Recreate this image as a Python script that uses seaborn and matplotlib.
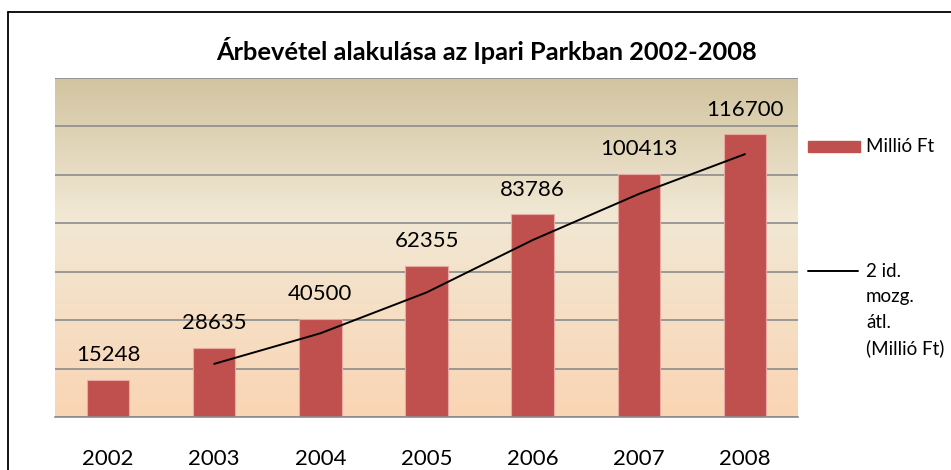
import numpy as np
import pandas as pd
import matplotlib
matplotlib.use("Agg")
import matplotlib.pyplot as plt
import seaborn as sns
from matplotlib.colors import LinearSegmentedColormap
from matplotlib.patches import Rectangle
from matplotlib.lines import Line2D

# data
years = ["2002", "2003", "2004", "2005", "2006", "2007", "2008"]
revenue = [15248, 28635, 40500, 62355, 83786, 100413, 116700]
title = "Árbevétel alakulása az Ipari Parkban 2002-2008"
bar_label = "Millió Ft"
line_label = "2 id.\nmozg.\nátl.\n(Millió Ft)"

df = pd.DataFrame({"year": years, "value": revenue})
df["ma"] = df["value"].rolling(2).mean()

sns.set_theme(style="white")
plt.rcParams["font.family"] = ["Lato", "DejaVu Sans"]

fig = plt.figure(figsize=(9.51, 4.70), dpi=100)
ax = fig.add_axes([55 / 951, 1 - 417 / 470, 743 / 951, 339 / 470])

# gradient background of the plot area
grad = LinearSegmentedColormap.from_list(
    "bg", [(0.0, "#FAD5B4"), (0.6, "#F1E8D4"), (1.0, "#D2C4A0")])
ax.imshow(np.linspace(0, 1, 256).reshape(-1, 1), cmap=grad, origin="lower",
          extent=[0, 1, 0, 1], transform=ax.transAxes, aspect="auto", zorder=0)

sns.barplot(data=df, x="year", y="value", color="#C0504D", saturation=1,
            width=0.4, edgecolor="#E8A8A4", linewidth=0.8, ax=ax)
ax.bar_label(ax.containers[0], labels=[str(v) for v in revenue],
             padding=10.5, fontsize=16, color="black")

sns.lineplot(x=np.arange(len(years)), y=df["ma"], color="black",
             linewidth=1.4, ax=ax)

ax.set_xlim(-0.5, len(years) - 0.5)
ax.set_ylim(0, 140000)
ax.set_yticks(np.arange(0, 140001, 20000))
ax.set_yticklabels([])
ax.set_axisbelow(True)
ax.grid(axis="y", color="#8C8C8C", linewidth=1.2)
ax.grid(axis="x", visible=False)
ax.set_xlabel("")
ax.set_ylabel("")
for s in ["left", "right", "top"]:
    ax.spines[s].set_visible(False)
ax.spines["bottom"].set_color("#8C8C8C")
ax.spines["bottom"].set_linewidth(1.2)
ax.tick_params(axis="x", length=0, pad=23, labelsize=16, labelcolor="black")
ax.tick_params(axis="y", length=0)

fig.text(487 / 951, 1 - 50 / 470, title, ha="center", va="center",
         fontsize=18.3, fontweight="bold", color="black")

# legend drawn by hand so the line handle sits by the first text line
fig.patches.append(Rectangle((808 / 951, 1 - 152 / 470), 52 / 951, 11 / 470,
                             transform=fig.transFigure, color="#C0504D"))
fig.text(866 / 951, 1 - 146 / 470, bar_label, ha="left", va="center",
         fontsize=13.5, color="black")
fig.lines.append(Line2D([808 / 951, 858 / 951], [1 - 271 / 470] * 2,
                        transform=fig.transFigure, color="black", linewidth=1.4))
fig.text(866 / 951, 1 - 263 / 470, line_label, ha="left", va="top",
         fontsize=13.5, color="black", linespacing=1.6)

# outer chart frame (runs off the right and bottom edges)
fig.lines.append(Line2D([8 / 951, 8 / 951], [0, 1 - 12 / 470],
                        transform=fig.transFigure, color="black", linewidth=1.3))
fig.lines.append(Line2D([8 / 951, 1], [1 - 12 / 470] * 2,
                        transform=fig.transFigure, color="black", linewidth=1.3))

fig.savefig("out.png", dpi=100)
